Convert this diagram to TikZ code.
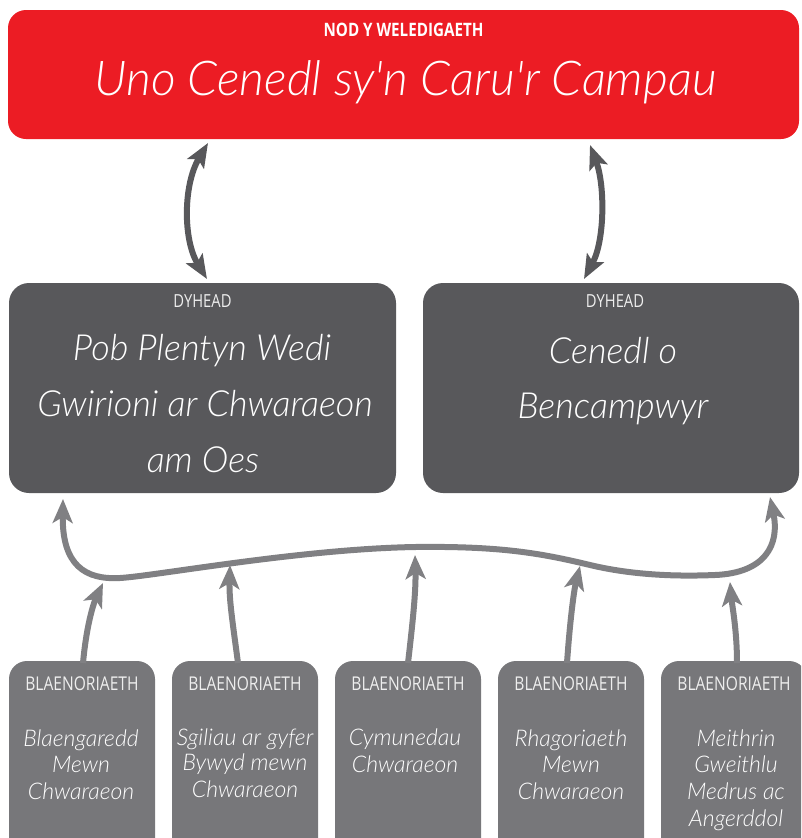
\documentclass[tikz,border=0pt]{standalone}
\usepackage{fontspec}
\setmainfont{Open Sans}
\newfontfamily\labelfont{Open Sans}[FakeStretch=0.82]
\newfontfamily\handfont{Lato}[UprightFont=* Light Italic]
\usetikzlibrary{arrows.meta,calc}
\definecolor{visred}{RGB}{236,28,36}
\definecolor{darkbox}{RGB}{88,88,91}
\definecolor{midbox}{RGB}{119,119,122}
\definecolor{arrowgray}{RGB}{128,128,131}
\definecolor{labelwhite}{RGB}{238,238,238}
\begin{document}
\begin{tikzpicture}[x=1pt,y=-1pt,
  visionbox/.style={fill=visred, rounded corners=18pt, minimum width=791pt, minimum height=129pt, inner sep=0pt, outer sep=0pt},
  dyheadbox/.style={fill=darkbox, rounded corners=20pt, minimum height=210pt, inner sep=0pt, outer sep=0pt},
  blaenbox/.style={fill=midbox, rounded corners=18pt, minimum width=146pt, minimum height=200pt, inner sep=0pt, outer sep=0pt},
  labeltext/.style={text=labelwhite, inner sep=0pt, font=\labelfont\fontsize{19}{21}\selectfont},
  bigline/.style={anchor=base, text=white, inner sep=0pt, font=\handfont\fontsize{36}{40}\selectfont},
  smallline/.style={anchor=base, text=white, inner sep=0pt, font=\handfont\fontsize{23}{26}\selectfont},
  toparrow/.style={draw=darkbox, line width=6pt, {Stealth[length=24pt,width=19pt,inset=5pt]}-{Stealth[length=24pt,width=19pt,inset=5pt]}},
  bigarrow/.style={draw=arrowgray, line width=6pt, {Stealth[length=24pt,width=20pt,inset=6pt]}-{Stealth[length=24pt,width=20pt,inset=6pt]}},
  smallarrow/.style={draw=arrowgray, line width=6pt, -{Stealth[length=24pt,width=20pt,inset=6pt]}}
]
\useasboundingbox (0,0) rectangle (801,838);
\clip (0,0) rectangle (801,838);

% boxes
\node[visionbox] (vision) at (403.5,74.5) {};
\node[dyheadbox, minimum width=387pt] (d1) at (202.5,388) {};
\node[dyheadbox, minimum width=376pt] (d2) at (611,388) {};
\node[blaenbox] (b1) at (82,761) {};
\node[blaenbox] (b2) at (245,761) {};
\node[blaenbox] (b3) at (408,761) {};
\node[blaenbox] (b4) at (571,761) {};
\node[blaenbox] (b5) at (734,761) {};

% vision texts
\node[labeltext, text=white, font=\labelfont\bfseries\fontsize{18.5}{20}\selectfont] (visionlabel) at ($(vision.north)+(0,20)$) {NOD Y WELEDIGAETH};
\node[anchor=base, text=white, inner sep=0pt, font=\handfont\fontsize{48}{52}\selectfont] (visiontitle) at ($(vision.north)+(2,85)$) {Uno Cenedl sy'n Caru'r Campau};

% dyhead texts
\node[labeltext, font=\labelfont\fontsize{18}{20}\selectfont] (d1label) at ($(d1.north)+(0,18)$) {DYHEAD};
\node[bigline] (d1l1) at (202,360) {Pob Plentyn Wedi};
\node[bigline] (d1l2) at (205,416) {Gwirioni ar Chwaraeon};
\node[bigline] (d1l3) at (203,472) {am Oes};
\node[labeltext, font=\labelfont\fontsize{18}{20}\selectfont] (d2label) at ($(d2.north)+(4,18)$) {DYHEAD};
\node[bigline] (d2l1) at (613,363) {Cenedl o};
\node[bigline] (d2l2) at (613,418) {Bencampwyr};

% blaenoriaeth texts
\foreach \i in {1,...,5}{
  \node[labeltext] (b\i label) at ($(b\i.north)+(0,23)$) {BLAENORIAETH};
}
\node[smallline] (b1l1) at (81,746) {Blaengaredd};
\node[smallline] (b1l2) at (81,772) {Mewn};
\node[smallline] (b1l3) at (81,799) {Chwaraeon};
\node[smallline] (b2l1) at (245,745) {Sgiliau ar gyfer};
\node[smallline] (b2l2) at (245,770) {Bywyd mewn};
\node[smallline] (b2l3) at (245,797) {Chwaraeon};
\node[smallline] (b3l1) at (405,745) {Cymunedau};
\node[smallline] (b3l2) at (405,772) {Chwaraeon};
\node[smallline] (b4l1) at (571,746) {Rhagoriaeth};
\node[smallline] (b4l2) at (571,772) {Mewn};
\node[smallline] (b4l3) at (571,799) {Chwaraeon};
\node[smallline] (b5l1) at (736,746) {Meithrin};
\node[smallline] (b5l2) at (736,772) {Gweithlu};
\node[smallline] (b5l3) at (736,799) {Medrus ac};
\node[smallline] (b5l4) at (736,826) {Angerddol};

% top double arrows
\coordinate (ta1) at ($(vision.south west)+(200,4)$);
\coordinate (tb1) at ($(d1.north west)+(198,-4)$);
\coordinate (ta2) at ($(vision.south west)+(582,6)$);
\coordinate (tb2) at ($(d2.north west)+(161,-4)$);
\draw[toparrow] (tb1) .. controls (183,240) and (183,185) .. (ta1);
\draw[toparrow] (tb2) .. controls (605,240) and (605,185) .. (ta2);

% big curved connector
\coordinate (bl) at ($(d1.south west)+(54,6)$);
\coordinate (br) at ($(d2.south west)+(347,4)$);
\draw[bigarrow] (bl) .. controls (62,565) and (85,580) .. (120,578)
  .. controls (155,576) and (300,549) .. (415,547)
  .. controls (500,546) and (540,553) .. (590,565)
  .. controls (640,577) and (690,576) .. (715,575)
  .. controls (765,573) and (780,545) .. (br);

% small arrows from priorities
\coordinate (c1) at (103,583);
\coordinate (c2) at (230,565);
\coordinate (c3) at (415,555);
\coordinate (c4) at (580,566);
\coordinate (c5) at (730,582);
\draw[smallarrow] ($(b1.north)+(1,2)$) .. controls (87,620) and (95,600) .. (c1);
\draw[smallarrow] ($(b2.north)+(-7,2)$) .. controls (233,625) and (229,600) .. (c2);
\draw[smallarrow] ($(b3.north)+(0,2)$) .. controls (413,620) and (416,590) .. (c3);
\draw[smallarrow] ($(b4.north)+(-4,2)$) .. controls (570,620) and (574,590) .. (c4);
\draw[smallarrow] ($(b5.north)+(3,2)$) .. controls (737,630) and (732,605) .. (c5);
\end{tikzpicture}
\end{document}
